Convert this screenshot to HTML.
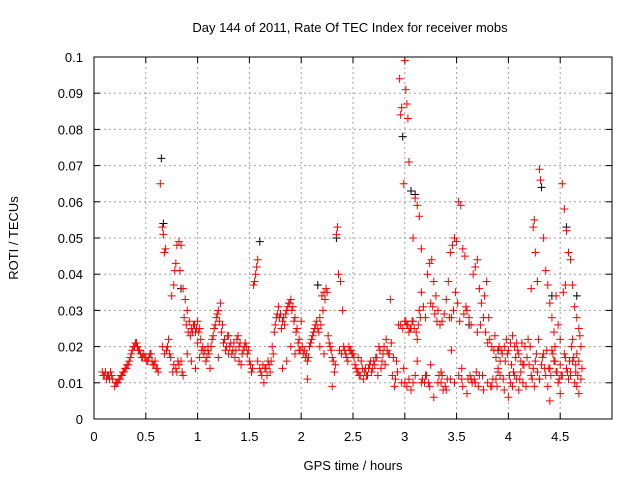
<!DOCTYPE html>
<html><head><meta charset="utf-8"><style>
html,body{margin:0;padding:0;background:#fff}
svg{display:block;font-family:"Liberation Sans",sans-serif}
</style></head><body>
<svg id="chart" width="640" height="480">
<rect width="640" height="480" fill="#fff"/>
<text x="350" y="32" font-size="13" text-anchor="middle">Day 144 of 2011, Rate Of TEC Index for receiver mobs</text>
<text x="353" y="470" font-size="13" text-anchor="middle">GPS time / hours</text>
<text transform="translate(18,238) rotate(-90)" font-size="13" text-anchor="middle">ROTI / TECUs</text>
<g id="grid"></g>
<g id="axes"></g>
<g id="marks"></g>
<rect x="94" y="57" width="518" height="362" fill="none" stroke="#000" stroke-width="1"/>
</svg>
<script>
const xTicks=[0,0.5,1,1.5,2,2.5,3,3.5,4,4.5];
const xTickLabels=["0","0.5","1","1.5","2","2.5","3","3.5","4","4.5"];
const yTicks=[0,0.01,0.02,0.03,0.04,0.05,0.06,0.07,0.08,0.09,0.1];
const yTickLabels=["0","0.01","0.02","0.03","0.04","0.05","0.06","0.07","0.08","0.09","0.1"];
const redX=[0.08,0.1,0.12,0.14,0.16,0.18,0.2,0.22,0.24,0.26,0.28,0.3,0.32,0.34,0.36,0.38,0.4,0.42,0.44,0.46,0.48,0.5,0.52,0.54,0.56,0.58,0.6,0.62,0.64,0.66,0.67,0.68,0.69,0.66,0.68,0.7,0.72,0.74,0.75,0.76,0.77,0.78,0.79,0.8,0.82,0.84,0.83,0.8,0.82,0.84,0.86,0.88,0.9,0.92,0.94,0.96,0.98,1.0,1.02,0.86,0.9,0.94,0.98,1.02,1.04,1.06,1.08,1.1,1.12,1.14,1.16,1.18,1.2,1.22,1.24,1.26,1.28,1.3,1.32,1.34,1.36,1.38,1.4,1.42,1.44,1.46,1.48,1.5,1.52,1.54,1.56,1.58,1.58,1.6,1.62,1.64,1.66,1.68,1.7,1.72,1.74,1.76,1.78,1.8,1.82,1.84,1.86,1.88,1.9,1.92,1.94,1.96,1.98,2.0,2.02,2.04,2.06,2.08,2.1,2.12,2.14,2.16,2.18,2.2,2.22,2.24,2.26,2.28,2.3,2.32,2.34,2.35,2.36,2.38,1.82,1.86,1.9,1.94,1.98,2.06,2.18,2.22,2.3,2.4,2.42,2.44,2.46,2.48,2.5,2.52,2.54,2.56,2.58,2.6,2.62,2.64,2.66,2.68,2.7,2.72,2.74,2.76,2.78,2.8,2.82,2.84,2.86,2.88,2.9,2.92,2.94,2.95,2.96,2.97,2.99,3.0,3.01,3.02,3.03,3.04,3.08,3.1,3.12,3.14,3.16,2.96,2.98,3.0,3.02,3.04,3.06,3.08,3.0,3.02,3.04,3.06,3.08,3.1,3.12,3.14,3.16,3.18,3.2,3.22,3.24,3.26,3.28,3.3,3.32,3.34,3.36,3.38,3.4,3.42,3.44,3.46,3.48,3.5,3.52,3.54,3.56,3.58,3.6,3.62,3.64,3.66,3.68,3.7,3.72,3.74,3.76,3.78,3.8,3.82,3.84,3.86,3.88,3.9,3.92,3.94,3.96,3.98,4.0,4.02,4.04,4.06,4.08,4.1,4.12,4.14,3.12,3.16,3.2,3.24,3.28,3.32,3.36,3.4,3.44,3.48,3.52,3.56,3.6,3.64,3.68,3.72,3.76,3.8,3.84,3.88,3.92,3.96,4.0,4.02,4.04,4.06,4.08,4.1,4.12,4.14,4.16,4.18,4.2,4.22,4.24,4.25,4.26,4.28,4.3,4.31,4.34,4.36,4.38,4.4,4.42,4.44,4.46,4.48,4.5,4.52,4.54,4.56,4.58,4.6,4.62,4.64,4.66,4.68,4.7,4.22,4.24,4.26,4.28,4.3,4.32,4.34,4.36,4.38,4.4,4.42,4.44,4.46,4.48,4.5,4.52,4.54,4.56,4.58,4.6,4.62,4.64,4.66,4.68,4.7,4.4,4.5,4.62,4.66,1.0,1.1,1.2,1.3,1.4,1.45,2.55,2.65,2.75,2.85,3.25,3.45,3.55,3.7,3.9,4.15,4.35,4.55,4.65];
const redY=[0.013,0.012,0.011,0.012,0.013,0.011,0.009,0.010,0.011,0.012,0.013,0.014,0.015,0.016,0.018,0.020,0.021,0.020,0.019,0.017,0.018,0.017,0.016,0.018,0.016,0.015,0.014,0.013,0.065,0.053,0.051,0.046,0.047,0.020,0.018,0.019,0.022,0.017,0.034,0.013,0.037,0.041,0.043,0.048,0.049,0.048,0.041,0.013,0.015,0.016,0.036,0.033,0.030,0.027,0.025,0.026,0.024,0.027,0.025,0.012,0.018,0.016,0.014,0.017,0.019,0.018,0.016,0.020,0.014,0.022,0.025,0.028,0.030,0.032,0.026,0.022,0.020,0.018,0.021,0.019,0.017,0.022,0.020,0.015,0.019,0.021,0.018,0.016,0.013,0.037,0.040,0.044,0.016,0.014,0.012,0.010,0.014,0.016,0.013,0.020,0.024,0.028,0.031,0.029,0.027,0.026,0.030,0.032,0.033,0.031,0.028,0.025,0.022,0.027,0.018,0.017,0.016,0.020,0.022,0.024,0.026,0.025,0.028,0.034,0.035,0.036,0.023,0.020,0.017,0.013,0.051,0.053,0.040,0.038,0.014,0.016,0.020,0.018,0.019,0.011,0.020,0.018,0.009,0.030,0.019,0.017,0.020,0.019,0.018,0.015,0.013,0.012,0.016,0.011,0.014,0.012,0.015,0.013,0.016,0.017,0.012,0.019,0.016,0.020,0.022,0.018,0.033,0.012,0.009,0.016,0.026,0.094,0.084,0.086,0.065,0.099,0.091,0.087,0.083,0.071,0.050,0.061,0.059,0.056,0.047,0.026,0.025,0.027,0.026,0.024,0.025,0.027,0.010,0.009,0.011,0.008,0.010,0.012,0.022,0.030,0.035,0.031,0.028,0.040,0.043,0.044,0.038,0.034,0.030,0.026,0.027,0.029,0.033,0.038,0.046,0.048,0.050,0.049,0.060,0.059,0.047,0.045,0.030,0.028,0.026,0.040,0.042,0.044,0.036,0.032,0.028,0.024,0.021,0.022,0.020,0.019,0.017,0.014,0.016,0.018,0.020,0.022,0.019,0.021,0.023,0.020,0.021,0.018,0.016,0.015,0.016,0.010,0.012,0.009,0.006,0.010,0.012,0.008,0.011,0.010,0.012,0.009,0.007,0.011,0.010,0.012,0.008,0.010,0.009,0.011,0.012,0.008,0.006,0.010,0.009,0.012,0.011,0.008,0.013,0.010,0.020,0.017,0.015,0.036,0.053,0.055,0.046,0.038,0.069,0.066,0.050,0.041,0.037,0.032,0.028,0.024,0.034,0.026,0.022,0.065,0.058,0.052,0.046,0.044,0.037,0.031,0.028,0.025,0.020,0.012,0.014,0.016,0.013,0.011,0.015,0.018,0.012,0.009,0.014,0.019,0.016,0.013,0.010,0.015,0.012,0.018,0.014,0.011,0.013,0.016,0.010,0.009,0.007,0.011,0.005,0.007,0.022,0.018,0.021,0.019,0.017,0.023,0.016,0.020,0.017,0.014,0.020,0.018,0.032,0.028,0.014,0.024,0.013,0.015,0.014,0.017,0.013];
const extraX=[0.09,0.11,0.13,0.15,0.17,0.21,0.23,0.25,0.27,0.29,0.31,0.33,0.35,0.37,0.39,0.41,0.43,0.45,0.47,0.49,0.51,0.53,0.55,0.57,0.59,0.61,0.71,0.73,0.77,0.79,0.81,0.85,0.87,0.89,0.91,0.93,0.95,0.97,0.99,1.01,1.03,1.05,1.07,1.09,1.11,1.13,1.15,1.17,1.19,1.21,1.23,1.25,1.27,1.29,1.31,1.33,1.35,1.37,1.39,1.41,1.43,1.47,1.49,1.51,1.53,1.55,1.57,1.61,1.63,1.65,1.67,1.69,1.71,1.73,1.75,1.77,1.79,1.81,1.83,1.85,1.87,1.89,1.91,1.93,1.95,1.97,1.99,2.01,2.03,2.05,2.07,2.09,2.11,2.13,2.15,2.17,2.19,2.21,2.23,2.25,2.27,2.29,2.31,2.33,2.37,2.39,2.41,2.43,2.45,2.47,2.49,2.51,2.53,2.55,2.57,2.59,2.61,2.63,2.67,2.69,2.71,2.73,2.77,2.79,2.81,2.83,2.87,2.89,2.91,2.93,2.97,2.99,3.01,3.03,3.05,3.07,3.09,3.11,3.13,3.15,3.17,3.19,3.21,3.23,3.27,3.29,3.31,3.33,3.35,3.37,3.39,3.41,3.43,3.47,3.49,3.51,3.53,3.57,3.59,3.61,3.63,3.65,3.67,3.69,3.71,3.73,3.75,3.77,3.79,3.81,3.83,3.85,3.87,3.89,3.91,3.93,3.95,3.97,3.99,4.01,4.03,4.05,4.07,4.09,4.11,4.13,4.17,4.19,4.21,4.23,4.27,4.29,4.33,4.37,4.39,4.41,4.43,4.45,4.47,4.49,4.51,4.53,4.55,4.57,4.59,4.61,4.63,4.65,4.67,4.69,4.71,4.3,4.45,4.6,4.68,3.35,3.45,3.55,3.25,4.05,4.25];
const extraY=[0.012,0.013,0.012,0.011,0.012,0.010,0.010,0.011,0.012,0.013,0.014,0.015,0.017,0.019,0.020,0.021,0.019,0.018,0.017,0.017,0.016,0.017,0.018,0.015,0.016,0.014,0.020,0.018,0.015,0.014,0.016,0.013,0.028,0.026,0.024,0.023,0.024,0.026,0.025,0.024,0.022,0.020,0.019,0.017,0.018,0.020,0.023,0.026,0.029,0.027,0.024,0.021,0.019,0.023,0.020,0.018,0.021,0.019,0.023,0.021,0.018,0.020,0.019,0.015,0.014,0.038,0.042,0.013,0.015,0.014,0.012,0.015,0.016,0.018,0.026,0.029,0.028,0.025,0.028,0.029,0.031,0.032,0.030,0.027,0.024,0.021,0.019,0.020,0.019,0.018,0.017,0.021,0.023,0.025,0.027,0.024,0.026,0.030,0.033,0.035,0.021,0.019,0.016,0.015,0.019,0.018,0.020,0.018,0.016,0.019,0.018,0.017,0.014,0.013,0.012,0.014,0.013,0.012,0.016,0.014,0.015,0.017,0.014,0.018,0.015,0.019,0.021,0.017,0.011,0.013,0.010,0.014,0.027,0.026,0.025,0.027,0.025,0.024,0.026,0.028,0.011,0.010,0.012,0.010,0.031,0.029,0.027,0.012,0.010,0.008,0.009,0.011,0.028,0.030,0.035,0.032,0.027,0.029,0.031,0.011,0.012,0.010,0.011,0.013,0.009,0.026,0.012,0.034,0.038,0.028,0.009,0.011,0.023,0.009,0.020,0.019,0.011,0.016,0.018,0.012,0.015,0.013,0.017,0.019,0.011,0.021,0.009,0.022,0.020,0.011,0.018,0.022,0.017,0.019,0.014,0.012,0.018,0.016,0.013,0.011,0.012,0.035,0.037,0.013,0.016,0.020,0.017,0.015,0.012,0.023,0.014,0.011,0.020,0.012,0.016,0.013,0.019,0.011,0.015,0.013,0.009,0.026,0.014,0.010,0.021,0.012,0.018,0.016,0.020,0.014,0.025,0.028,0.022,0.024,0.014,0.016];
const blackX=[0.65,0.67,0.84,1.6,2.16,2.34,2.98,3.06,3.1,3.62,3.9,4.32,4.42,4.56,4.66];
const blackY=[0.072,0.054,0.036,0.049,0.037,0.050,0.078,0.063,0.062,0.026,0.019,0.064,0.034,0.053,0.034];

const X0=94,X1=612,Y0=419,Y1=57;
const sx=v=>X0+(v/5)*(X1-X0);
const sy=v=>Y0-(v/0.1)*(Y0-Y1);
const NS="http://www.w3.org/2000/svg";
const grid=document.getElementById('grid'),axes=document.getElementById('axes'),marks=document.getElementById('marks');
function mk(tag,attrs,parent){const e=document.createElementNS(NS,tag);for(const k in attrs)e.setAttribute(k,attrs[k]);parent.appendChild(e);return e;}
xTicks.forEach((t,i)=>{
  const x=sx(t);
  if(t>0){const g=mk('line',{x1:x,x2:x,y1:Y1,y2:Y0,stroke:'#a0a0a0','stroke-dasharray':'2,3'},grid);
  
  }
  mk('line',{x1:x,x2:x,y1:Y0,y2:Y0-6,stroke:'#000'},axes);
  mk('line',{x1:x,x2:x,y1:Y1,y2:Y1+6,stroke:'#000'},axes);
  const l=mk('text',{x:x,y:Y0+22,'font-size':13,'text-anchor':'middle'},axes);
  l.textContent=xTickLabels[i];
  
  
});
yTicks.forEach((t,i)=>{
  const y=sy(t);
  if(t>0&&t<0.1){const g=mk('line',{x1:X0,x2:X1,y1:y,y2:y,stroke:'#a0a0a0','stroke-dasharray':'2,3'},grid);
  
  }
  mk('line',{x1:X0,x2:X0+6,y1:y,y2:y,stroke:'#000'},axes);
  mk('line',{x1:X1,x2:X1-6,y1:y,y2:y,stroke:'#000'},axes);
  const l=mk('text',{x:X0-11,y:y+5,'font-size':13,'text-anchor':'end'},axes);
  l.textContent=yTickLabels[i];
  
  
});
function plus(xv,yv,color,name){
  const x=sx(xv),y=sy(yv);
  const p=mk('path',{d:`M${x-4},${y}H${x+4}M${x},${y-4}V${y+4}`,stroke:color,'stroke-width':1,fill:'none'},marks);
  
  
}
blackX.forEach((v,i)=>plus(v,blackY[i],'#000','point-black'));
redX.forEach((v,i)=>plus(v,redY[i],'#ff0000','point-red'));
extraX.forEach((v,i)=>plus(v,extraY[i],'#ff0000','point-red'));
</script>
</body></html>
